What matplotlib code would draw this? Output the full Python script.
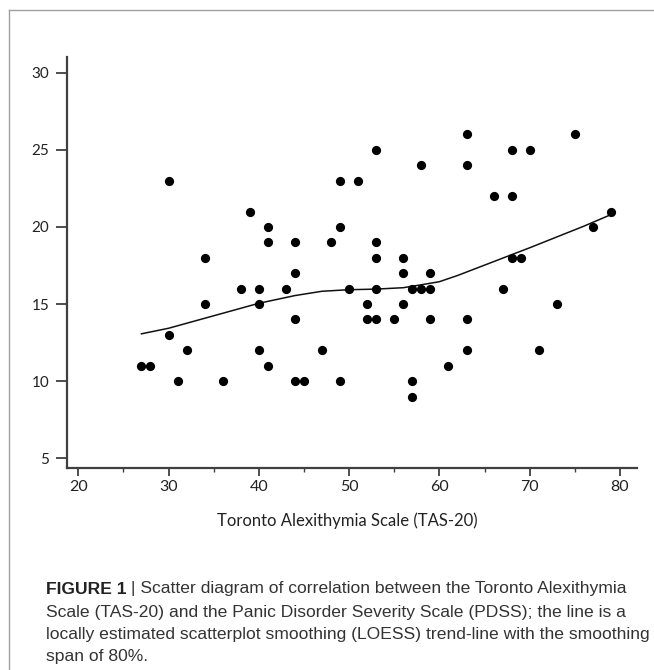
import matplotlib
matplotlib.use("Agg")
import matplotlib.pyplot as plt
from matplotlib.lines import Line2D
from matplotlib.ticker import MultipleLocator

# ---- data ----
tas20 = [27, 28, 30, 30, 31, 32, 34, 34, 36, 38, 39, 40, 40, 40, 41, 41, 41, 43,
         44, 44, 44, 44, 45, 47, 48, 49, 49, 49, 50, 51, 52, 52, 53, 53, 53, 53,
         53, 55, 56, 56, 56, 57, 57, 57, 58, 58, 59, 59, 59, 61, 63, 63, 63, 63,
         66, 67, 68, 68, 68, 69, 70, 71, 73, 75, 77, 79]
pdss = [11, 11, 23, 13, 10, 12, 18, 15, 10, 16, 21, 16, 15, 12, 20, 19, 11, 16,
        19, 17, 14, 10, 10, 12, 19, 23, 20, 10, 16, 23, 15, 14, 25, 19, 18, 16,
        14, 14, 18, 17, 15, 16, 10, 9, 24, 16, 17, 16, 14, 11, 26, 24, 14, 12,
        22, 16, 25, 22, 18, 18, 25, 12, 15, 26, 20, 21]

loess_x = [27, 30, 35, 40, 44, 47, 50, 53, 56, 58, 60, 62, 64, 66, 68, 70, 73, 76, 79]
loess_y = [13.07, 13.43, 14.24, 15.05, 15.55, 15.83, 15.93, 15.97, 16.06, 16.25,
           16.45, 16.85, 17.3, 17.75, 18.2, 18.65, 19.35, 20.05, 20.8]

x_ticks = [20, 30, 40, 50, 60, 70, 80]
y_ticks = [5, 10, 15, 20, 25, 30]
x_label = "Toronto Alexithymia Scale (TAS-20)"
caption_bold = "FIGURE 1"
caption_lines = [
    " | Scatter diagram of correlation between the Toronto Alexithymia",
    "Scale (TAS-20) and the Panic Disorder Severity Scale (PDSS); the line is a",
    "locally estimated scatterplot smoothing (LOESS) trend-line with the smoothing",
    "span of 80%.",
]

W, H = 654, 670
fig = plt.figure(figsize=(W / 100, H / 100), dpi=100)
fig.patch.set_facecolor("white")

# outer frame (top and left edges visible)
fx0, fy0 = 9.3 / W, 1 - 10.3 / H
fig.add_artist(Line2D([fx0, 1.01], [fy0, fy0], transform=fig.transFigure,
                      color="#a0a0a0", lw=1.0))
fig.add_artist(Line2D([fx0, fx0], [fy0, -0.01], transform=fig.transFigure,
                      color="#a0a0a0", lw=1.0))

left, right, top, bottom = 66.7, 636.7, 57.3, 468.3
ax = fig.add_axes([left / W, 1 - bottom / H, (right - left) / W, (bottom - top) / H])

ax.scatter(tas20, pdss, s=44, color="black", linewidths=0, zorder=3)
ax.plot(loess_x, loess_y, color="#111111", lw=1.1, zorder=2)

ax.set_xlim(18.72, 81.85)
ax.set_ylim(4.35, 31.0)

ax.set_xticks(x_ticks)
ax.set_yticks(y_ticks)
ax.xaxis.set_minor_locator(MultipleLocator(5))

spine_col = "#404040"
for s in ["top", "right"]:
    ax.spines[s].set_visible(False)
for s in ["left", "bottom"]:
    ax.spines[s].set_color(spine_col)
    ax.spines[s].set_linewidth(1.6)

tick_font = ["Lato", "DejaVu Sans"]
ax.tick_params(axis="y", which="major", direction="out", length=7.6, width=1.3,
               color=spine_col, labelsize=11, labelcolor="#222222", pad=5)
ax.tick_params(axis="x", which="major", direction="out", length=5.8, width=1.3,
               color=spine_col, labelsize=11.5, labelcolor="#222222", pad=2.5)
ax.tick_params(axis="x", which="minor", direction="out", length=3.0, width=1.0,
               color=spine_col)
for lab in ax.get_xticklabels() + ax.get_yticklabels():
    lab.set_fontfamily(tick_font)

ax.set_xlabel(x_label, fontsize=12, family=tick_font, color="#222222",
              va="center", ha="center")
ax.xaxis.set_label_coords((347 - left) / (right - left),
                          (bottom - 521) / (bottom - top))

# caption
cap_family = ["Liberation Sans Narrow", "Liberation Sans", "DejaVu Sans"]
cap_size = 12.6
cap_x = 46 / W
line_y = [589, 612, 635, 657]
fig.canvas.draw()
renderer = fig.canvas.get_renderer()
tb = fig.text(cap_x, 1 - line_y[0] / H, caption_bold, family=cap_family,
              fontsize=cap_size, fontweight="bold", color="#222222", va="center")
bb = tb.get_window_extent(renderer=renderer)
fig.text(bb.x1 / W, 1 - line_y[0] / H, caption_lines[0], family=cap_family,
         fontsize=cap_size, color="#333333", va="center")
for ly, txt in zip(line_y[1:], caption_lines[1:]):
    fig.text(cap_x, 1 - ly / H, txt, family=cap_family, fontsize=cap_size,
             color="#333333", va="center")

fig.savefig("out.png", dpi=100, facecolor="white")
